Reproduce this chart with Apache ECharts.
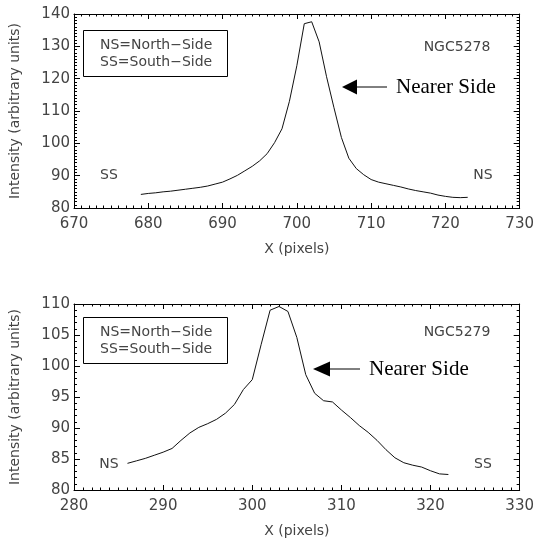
<!DOCTYPE html>
<html>
<head>
<meta charset="utf-8">
<script src="https://cdn.jsdelivr.net/npm/echarts@6/dist/echarts.min.js"></script>
<style>
  html, body { margin: 0; padding: 0; background: #fff; }
  #chart { width: 537px; height: 542px; }
</style>
</head>
<body>
<div id="chart"></div>
<script>
// NGC5278 profile (upper panel)
const topX = [679, 680, 681, 682, 683, 684, 685, 686, 687, 688, 689, 690, 691, 692, 693,
  694, 695, 696, 697, 698, 699, 700, 701, 702, 703, 704, 705, 706, 707, 708,
  709, 710, 711, 712, 713, 714, 715, 716, 717, 718, 719, 720, 721, 722, 723];
const topY = [84.2, 84.5, 84.7, 85.0, 85.2, 85.5, 85.8, 86.1, 86.4, 86.8, 87.4, 88.0, 89.0, 90.1, 91.5,
  92.9, 94.6, 96.8, 100.2, 104.5, 113, 124, 137, 137.6, 131.4, 120.6, 111, 101.8, 95.4, 92.2,
  90.3, 88.8, 88.0, 87.5, 87.0, 86.5, 85.9, 85.4, 85.0, 84.6, 84.0, 83.6, 83.3, 83.2, 83.3];

// NGC5279 profile (lower panel)
const botX = [286, 287, 288, 289, 290, 291, 292, 293, 294, 295, 296, 297, 298, 299, 300,
  301, 302, 303, 304, 305, 306, 307, 308, 309, 310, 311, 312, 313, 314, 315,
  316, 317, 318, 319, 320, 321, 322];
const botY = [84.3, 84.7, 85.1, 85.6, 86.1, 86.7, 88.0, 89.2, 90.1, 90.7, 91.4, 92.4, 93.8, 96.2, 97.8,
  103.5, 109.0, 109.6, 108.8, 104.6, 98.6, 95.6, 94.4, 94.2, 92.9, 91.7, 90.4, 89.3, 88.0, 86.5,
  85.2, 84.4, 84.0, 83.7, 83.1, 82.6, 82.5];

const topXRange = [670, 730];
const topYRange = [80, 140];
const botXRange = [280, 330];
const botYRange = [80, 110];

const xTitle = 'X (pixels)';
const yTitle = 'Intensity (arbitrary units)';
const legendLines = ['NS=North\u2212Side', 'SS=South\u2212Side'];

const FONT = 'DejaVu Sans';
const TXT = '#444';

function pairs(xs, ys) {
  return xs.map((x, i) => [x, ys[i]]);
}

function xAx(grid, range, main) {
  return {
    type: 'value', gridIndex: grid, min: range[0], max: range[1], interval: 10,
    position: main ? 'bottom' : 'top',
    axisLine: { show: true, lineStyle: { color: '#000', width: 1 } },
    axisTick: { show: true, inside: true, length: 5, lineStyle: { color: '#000' } },
    minorTick: { show: true, splitNumber: 10, length: 2.5, lineStyle: { color: '#000' } },
    splitLine: { show: false },
    minorSplitLine: { show: false },
    axisLabel: { show: main, color: TXT, fontFamily: FONT, fontSize: 15, margin: 9 },
    name: main ? xTitle : '',
    nameLocation: 'middle', nameGap: 34,
    nameTextStyle: { color: TXT, fontFamily: FONT, fontSize: 14 }
  };
}

function yAx(grid, range, step, minors, main) {
  return {
    type: 'value', gridIndex: grid, min: range[0], max: range[1], interval: step,
    position: main ? 'left' : 'right',
    axisLine: { show: true, lineStyle: { color: '#000', width: 1 } },
    axisTick: { show: true, inside: true, length: 6, lineStyle: { color: '#000' } },
    minorTick: { show: true, splitNumber: minors, length: 3, lineStyle: { color: '#000' } },
    splitLine: { show: false },
    minorSplitLine: { show: false },
    axisLabel: { show: main, color: TXT, fontFamily: FONT, fontSize: 15, margin: 4 },
    name: main ? yTitle : '',
    nameLocation: 'middle', nameGap: 52,
    nameTextStyle: { color: TXT, fontFamily: FONT, fontSize: 14 }
  };
}

// annotation helpers (legend box, labels, arrows)
function legendBox(top) {
  return [
    { type: 'rect', shape: { x: 83.5, y: top + 0.5, width: 144, height: 46 },
      style: { fill: 'none', stroke: '#000', lineWidth: 1 } },
    { type: 'text', x: 100, y: top + 15, style: { text: legendLines[0], fill: TXT, font: '14px "DejaVu Sans"', verticalAlign: 'middle' } },
    { type: 'text', x: 100, y: top + 32, style: { text: legendLines[1], fill: TXT, font: '14px "DejaVu Sans"', verticalAlign: 'middle' } }
  ];
}

function plotText(x, y, s, align) {
  return { type: 'text', x: x, y: y,
    style: { text: s, fill: TXT, font: '14px "DejaVu Sans"', align: align || 'center', verticalAlign: 'middle' } };
}

function arrow(tip, base, end, y, labelX) {
  return [
    { type: 'polygon', shape: { points: [[tip, y], [base, y - 7.5], [base, y + 7.5]] }, style: { fill: '#000' } },
    { type: 'line', shape: { x1: base, y1: y, x2: end, y2: y }, style: { stroke: '#000', lineWidth: 1 } },
    { type: 'text', x: labelX, y: y,
      style: { text: 'Nearer Side', fill: '#000', font: '21px "Liberation Serif"', align: 'left', verticalAlign: 'middle' } }
  ];
}

const chart = echarts.init(document.getElementById('chart'));
chart.setOption({
  animation: false,
  backgroundColor: '#fff',
  grid: [
    { left: 72, top: 14, width: 450, height: 194 },
    { left: 72, top: 304, width: 450, height: 186 }
  ],
  xAxis: [
    xAx(0, topXRange, true), xAx(0, topXRange, false),
    xAx(1, botXRange, true), xAx(1, botXRange, false)
  ],
  yAxis: [
    yAx(0, topYRange, 10, 10, true), yAx(0, topYRange, 10, 10, false),
    yAx(1, botYRange, 5, 5, true), yAx(1, botYRange, 5, 5, false)
  ],
  series: [
    { type: 'line', xAxisIndex: 0, yAxisIndex: 0, data: pairs(topX, topY), showSymbol: false,
      lineStyle: { color: '#111', width: 1 } },
    { type: 'line', xAxisIndex: 2, yAxisIndex: 2, data: pairs(botX, botY), showSymbol: false,
      lineStyle: { color: '#111', width: 1 } }
  ],
  graphic: [].concat(
    legendBox(30),
    legendBox(317),
    [
      plotText(457, 47, 'NGC5278'),
      plotText(109, 175, 'SS'),
      plotText(483, 175, 'NS'),
      plotText(457, 332, 'NGC5279'),
      plotText(109, 464, 'NS'),
      plotText(483, 464, 'SS')
    ],
    arrow(342, 357, 387, 87, 396),
    arrow(313, 330, 360, 369, 369)
  )
});
</script>
</body>
</html>
